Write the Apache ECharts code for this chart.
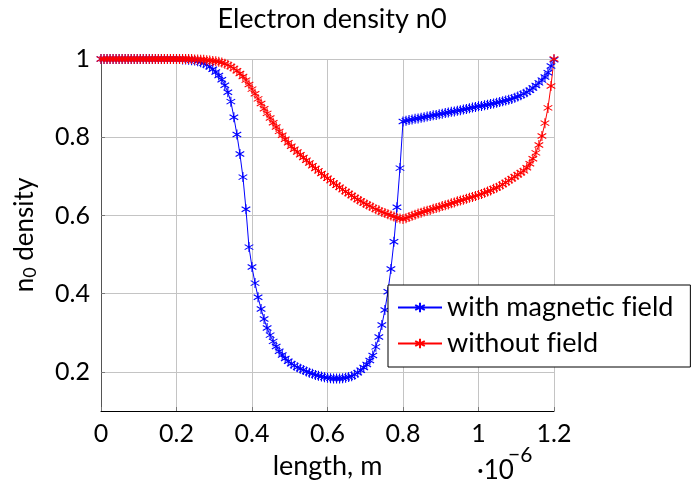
<!DOCTYPE html>
<html>
<head>
<meta charset="utf-8">
<script src="https://cdn.jsdelivr.net/npm/echarts@6/dist/echarts.min.js"></script>
<style>
  html, body { margin: 0; padding: 0; background: #fff; }
  #chart { width: 692px; height: 490px; }
</style>
</head>
<body>
<div id="chart"></div>
<script>
// sample spacing along the length axis (units of 1e-6 m)
const xStep = 0.008;

const yTicks = [0.2, 0.4, 0.6, 0.8, 1];

const withField = [
  1, 1, 1, 1, 1, 1, 1, 1, 1, 1,
  1, 1, 1, 1, 1, 1, 1, 1, 1, 1,
  1, 1, 1, 1, 1, 1, 1, 0.999, 0.999, 0.998,
  0.997, 0.996, 0.994, 0.992, 0.989, 0.985, 0.980, 0.974, 0.967, 0.958,
  0.947, 0.933, 0.915, 0.891, 0.851, 0.807, 0.757, 0.698, 0.616, 0.519,
  0.468, 0.427, 0.391, 0.361, 0.335, 0.312, 0.294, 0.278, 0.265, 0.253,
  0.243, 0.234, 0.227, 0.221, 0.216, 0.212, 0.208, 0.205, 0.201, 0.198,
  0.195, 0.192, 0.190, 0.188, 0.186, 0.185, 0.184, 0.183, 0.183, 0.183,
  0.184, 0.185, 0.187, 0.189, 0.193, 0.198, 0.204, 0.211, 0.219, 0.229,
  0.242, 0.264, 0.289, 0.320, 0.358, 0.405, 0.463, 0.533, 0.621, 0.721,
  0.840, 0.842, 0.844, 0.845, 0.847, 0.848, 0.850, 0.851, 0.853, 0.854,
  0.856, 0.857, 0.859, 0.860, 0.862, 0.863, 0.865, 0.866, 0.868, 0.869,
  0.871, 0.872, 0.874, 0.876, 0.877, 0.879, 0.880, 0.882, 0.883, 0.885,
  0.886, 0.888, 0.890, 0.892, 0.894, 0.896, 0.898, 0.901, 0.904, 0.907,
  0.911, 0.915, 0.920, 0.926, 0.932, 0.939, 0.946, 0.954, 0.965, 0.982,
  0.998
];

const withoutField = [
  1, 1, 1, 1, 1, 1, 1, 1, 1, 1,
  1, 1, 1, 1, 1, 1, 1, 1, 1, 1,
  1, 1, 1, 1, 1, 1, 1, 1, 1, 1,
  1, 0.999, 0.999, 0.998, 0.998, 0.997, 0.996, 0.995, 0.994, 0.993,
  0.991, 0.988, 0.985, 0.981, 0.976, 0.970, 0.963, 0.955, 0.946, 0.935,
  0.923, 0.911, 0.898, 0.886, 0.873, 0.861, 0.849, 0.837, 0.826, 0.815,
  0.805, 0.795, 0.786, 0.777, 0.769, 0.762, 0.755, 0.748, 0.741, 0.734,
  0.727, 0.720, 0.714, 0.707, 0.701, 0.695, 0.689, 0.683, 0.677, 0.672,
  0.666, 0.661, 0.656, 0.651, 0.646, 0.641, 0.637, 0.632, 0.628, 0.624,
  0.620, 0.616, 0.613, 0.609, 0.606, 0.603, 0.600, 0.597, 0.594, 0.592,
  0.591, 0.593, 0.596, 0.599, 0.602, 0.605, 0.607, 0.610, 0.612, 0.614,
  0.617, 0.619, 0.621, 0.624, 0.626, 0.628, 0.631, 0.633, 0.636, 0.638,
  0.640, 0.643, 0.645, 0.647, 0.650, 0.652, 0.655, 0.658, 0.661, 0.664,
  0.668, 0.671, 0.675, 0.679, 0.684, 0.689, 0.694, 0.699, 0.704, 0.709,
  0.714, 0.722, 0.732, 0.745, 0.760, 0.780, 0.803, 0.836, 0.875, 0.931,
  1
];

const font = 'Lato';
const star = 'path://M0,-10L0,10M-8.66,-5L8.66,5M-8.66,5L8.66,-5';

function toPairs(values) {
  return values.map((v, i) => [+(i * xStep).toFixed(3), v]);
}

function makeSeries(name, values, color) {
  return {
    name,
    type: 'line',
    data: toPairs(values),
    symbol: star,
    symbolSize: 10,
    symbolKeepAspect: true,
    showAllSymbol: true,
    clip: false,
    lineStyle: { color, width: 1 },
    itemStyle: { color, borderColor: color, borderWidth: 1.1 },
    emphasis: { disabled: true },
    animation: false
  };
}

const chart = echarts.init(document.getElementById('chart'));
chart.setOption({
  animation: false,
  title: {
    text: 'Electron density n0',
    left: 327,
    top: 1,
    textAlign: 'center',
    textStyle: { fontFamily: font, fontSize: 27, fontWeight: 'normal', color: '#000' }
  },
  grid: { left: 101, right: 138, top: 59, bottom: 79, outerBoundsMode: 'none' },
  legend: {
    orient: 'vertical',
    left: 388,
    top: 285,
    padding: [9, 17, 10, 9],
    itemWidth: 44,
    itemHeight: 12,
    itemGap: 9,
    backgroundColor: '#fff',
    borderColor: '#000',
    borderWidth: 1,
    borderRadius: 0,
    // keep f and i as separate glyphs, as in the reference
    formatter: name => name.replace('fi', 'f\u200Ci'),
    textStyle: { fontFamily: font, fontSize: 27, lineHeight: 26, color: '#000' },
    data: ['with magnetic field', 'without field']
  },
  xAxis: {
    type: 'value',
    min: 0,
    max: 1.2,
    interval: 0.2,
    name: 'length, m',
    nameLocation: 'middle',
    nameGap: 42,
    nameTextStyle: { fontFamily: font, fontSize: 27, color: '#000' },
    axisLine: { show: true, lineStyle: { color: '#000', width: 1 } },
    axisTick: { show: true, inside: true, length: 4, lineStyle: { color: '#777' } },
    axisLabel: { fontFamily: font, fontSize: 25, color: '#000', margin: 10 },
    splitLine: { show: true, lineStyle: { color: '#c4c4c4', width: 1 } }
  },
  yAxis: {
    type: 'value',
    min: 0.1,
    max: 1,
    name: 'n{sub|0} density',
    nameLocation: 'middle',
    nameGap: 62,
    nameTextStyle: {
      fontFamily: font, fontSize: 26, color: '#000', lineHeight: 28,
      rich: { sub: { fontFamily: font, fontSize: 18, lineHeight: 14, verticalAlign: 'bottom' } }
    },
    axisLine: { show: true, lineStyle: { color: '#555', width: 1 } },
    axisTick: { show: true, inside: true, length: 4, customValues: yTicks, lineStyle: { color: '#777' } },
    axisLabel: { fontFamily: font, fontSize: 25, color: '#000', margin: 11, customValues: yTicks },
    splitLine: { show: true, customValues: yTicks, lineStyle: { color: '#c4c4c4', width: 1 } }
  },
  graphic: [
    {
      type: 'text',
      left: 477,
      top: 458,
      style: { text: '·10', fontFamily: font, fontSize: 26, fill: '#000' }
    },
    {
      type: 'text',
      left: 508,
      top: 445,
      style: { text: '−6', fontFamily: font, fontSize: 21, fill: '#000' }
    }
  ],
  series: [
    makeSeries('with magnetic field', withField, '#0000ff'),
    makeSeries('without field', withoutField, '#ff0000')
  ]
});
</script>
</body>
</html>
